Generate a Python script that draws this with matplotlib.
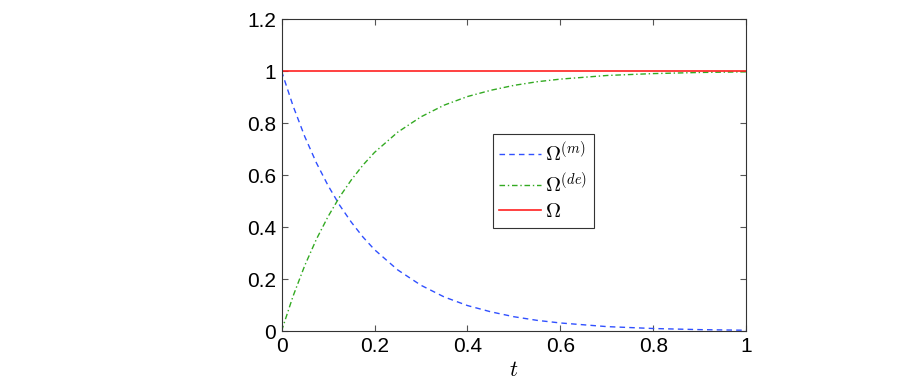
import matplotlib
matplotlib.use('Agg')
import matplotlib.pyplot as plt

plt.rcParams['font.family'] = ['Liberation Sans', 'DejaVu Sans']
plt.rcParams['mathtext.fontset'] = 'cm'

# values
t = [0, 0.025, 0.05, 0.075, 0.1, 0.125, 0.15, 0.175, 0.2, 0.25, 0.3, 0.35, 0.4,
     0.45, 0.5, 0.55, 0.6, 0.7, 0.8, 0.9, 1.0]
omega_m = [1.0, 0.865, 0.748, 0.647, 0.56, 0.484, 0.419, 0.362, 0.313, 0.235,
           0.176, 0.131, 0.098, 0.074, 0.055, 0.041, 0.031, 0.017, 0.0097,
           0.0054, 0.003]
omega_de = [0.0, 0.135, 0.252, 0.353, 0.44, 0.516, 0.581, 0.638, 0.687, 0.765,
            0.824, 0.869, 0.902, 0.926, 0.945, 0.959, 0.969, 0.983, 0.9903,
            0.9946, 0.997]
omega = [1.0] * len(t)

labels = [r'$\Omega^{(m)}$', r'$\Omega^{(de)}$', r'$\Omega$']

fig = plt.figure(figsize=(9.14, 3.89), dpi=100)
ax = fig.add_axes([0.308, 0.149, 0.5087, 0.802])

ax.plot(t, omega_m, '--', color='#3050ff', lw=1.0, dashes=(4, 3), label=labels[0])
ax.plot(t, omega_de, '-.', color='#33aa22', lw=1.0, dashes=(4, 2, 1, 2), label=labels[1])
ax.plot(t, omega, '-', color='#ff2020', lw=1.2, label=labels[2])

ax.set_xlim(0, 1)
ax.set_ylim(0, 1.2)
ax.set_xticks([0, 0.2, 0.4, 0.6, 0.8, 1])
ax.set_xticklabels(['0', '0.2', '0.4', '0.6', '0.8', '1'])
ax.set_yticks([0, 0.2, 0.4, 0.6, 0.8, 1, 1.2])
ax.set_yticklabels(['0', '0.2', '0.4', '0.6', '0.8', '1', '1.2'])
ax.tick_params(direction='in', top=True, right=True, labelsize=15, length=4,
               color='#555555', pad=4)
for s in ax.spines.values():
    s.set_color('#333333')
    s.set_linewidth(0.8)

ax.set_xlabel(r'$t$', fontsize=16, labelpad=3)

leg = ax.legend(loc='center', bbox_to_anchor=(0.563, 0.481), fontsize=15,
                fancybox=False, framealpha=1, edgecolor='#333333',
                handlelength=2.0, handletextpad=0.2, borderpad=0.3,
                labelspacing=0.3)
leg.get_frame().set_linewidth(0.8)

fig.savefig('out.png', dpi=100)
